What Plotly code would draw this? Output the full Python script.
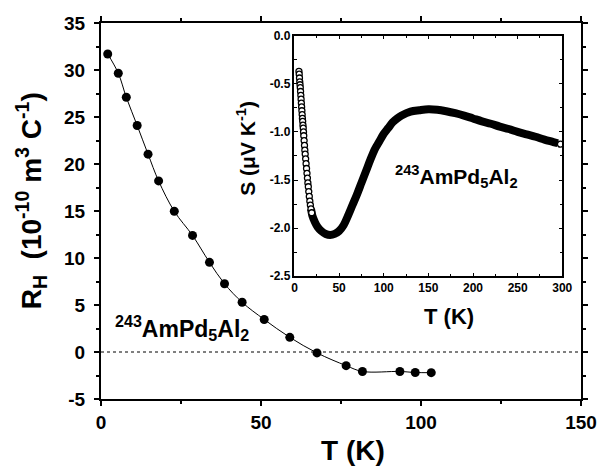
import plotly.graph_objects as go

# Main panel: Hall coefficient
T_main = [2.1, 5.4, 7.9, 11.3, 14.7, 18.0, 22.9, 28.6, 33.9, 38.6, 44.1, 51.0, 59.0, 67.5,
          76.6, 81.7, 93.4, 98.2, 103.2]
RH = [31.7, 29.66, 27.1, 24.1, 21.05, 18.2, 14.97, 12.4, 9.54, 7.26, 5.29, 3.46, 1.56, -0.1,
      -1.45, -2.07, -2.07, -2.18, -2.2]

# Inset: thermopower
T_ins = [5.0, 5.3, 5.6, 5.9, 6.2, 6.5, 6.8, 7.1, 7.4, 7.7, 8.0, 8.3, 8.6, 8.9, 9.2, 9.5, 9.8,
         10.1, 10.4, 10.8, 11.2, 11.6, 12.0, 12.5, 13.0, 13.5, 14.0, 14.5, 15.0, 15.5, 16.0,
         16.6, 17.2, 17.8, 18.5, 19.3,
         20, 23, 26, 30, 35, 40, 45, 50, 55, 60, 65, 70, 75, 80, 85, 90, 95, 100, 105, 110,
         115, 120, 130, 140, 150, 160, 170, 180, 190, 200, 210, 220, 230, 240, 250, 260, 270,
         280, 290, 295, 298]
S_ins = [-0.37, -0.40, -0.44, -0.48, -0.51, -0.54, -0.58, -0.62, -0.66, -0.70, -0.74, -0.78,
         -0.82, -0.86, -0.89, -0.93, -0.96, -1.00, -1.04, -1.09, -1.14, -1.19, -1.23, -1.28,
         -1.33, -1.38, -1.43, -1.48, -1.53, -1.57, -1.62, -1.67, -1.72, -1.76, -1.80, -1.84,
         -1.87, -1.94, -1.99, -2.03, -2.06, -2.07, -2.06, -2.03, -1.97, -1.87, -1.76, -1.65,
         -1.53, -1.41, -1.29, -1.18, -1.10, -1.02, -0.96, -0.90, -0.86, -0.83, -0.79, -0.775,
         -0.765, -0.77, -0.785, -0.805, -0.83, -0.86, -0.89, -0.915, -0.945, -0.97, -1.00,
         -1.025, -1.05, -1.08, -1.105, -1.118, -1.127]

# Tick labels
main_x_ticks = [0, 50, 100, 150]
main_y_ticks = [-5, 0, 5, 10, 15, 20, 25, 30, 35]
ins_x_ticks = [0, 50, 100, 150, 200, 250, 300]
ins_y_ticks = [-2.5, -2.0, -1.5, -1.0, -0.5, 0.0]
main_x_labels = ["0", "50", "100", "150"]
main_y_labels = ["-5", "0", "5", "10", "15", "20", "25", "30", "35"]
ins_x_labels = ["0", "50", "100", "150", "200", "250", "300"]
ins_y_labels = ["-2.5", "-2.0", "-1.5", "-1.0", "-0.5", "0.0"]

FONT = "Liberation Sans, Arial, sans-serif"


def bold(labels):
    return ["<b>%s</b>" % s for s in labels]


fig = go.Figure()

fig.add_trace(go.Scatter(x=T_main, y=RH, mode="lines+markers",
                         line=dict(color="black", width=1, shape="spline"),
                         marker=dict(color="black", size=9, symbol="circle"),
                         xaxis="x", yaxis="y", showlegend=False))

# inset: dense band as thick line, sparse left branch and end point as open circles
band_T = [t for t in T_ins if 18 <= t < 297]
band_S = [s for t, s in zip(T_ins, S_ins) if 18 <= t < 297]
mk_T = [t for t in T_ins if t < 20 or t >= 297]
mk_S = [s for t, s in zip(T_ins, S_ins) if t < 20 or t >= 297]

fig.add_trace(go.Scatter(x=band_T, y=band_S, mode="lines",
                         line=dict(color="black", width=8, shape="spline"),
                         xaxis="x2", yaxis="y2", showlegend=False))
fig.add_trace(go.Scatter(x=mk_T, y=mk_S, mode="markers",
                         marker=dict(color="white", size=6, symbol="circle",
                                     line=dict(color="black", width=1.3)),
                         xaxis="x2", yaxis="y2", showlegend=False))

fig.add_shape(type="line", xref="x", yref="y", x0=0, x1=150, y0=0, y1=0,
              line=dict(color="black", width=1, dash="3px,3px"))

tickfont_main = dict(family=FONT, size=19, color="black")
tickfont_ins = dict(family=FONT, size=12, color="black")

# the page body adds an 8px offset, so the figure is 8px smaller with 8px less left/top margin
fig.update_layout(
    width=599, height=459,
    margin=dict(l=93, r=26, t=5, b=68),
    paper_bgcolor="white", plot_bgcolor="white",
    showlegend=False,
    xaxis=dict(domain=[0, 1], range=[0, 150],
               tickmode="array", tickvals=main_x_ticks, ticktext=bold(main_x_labels),
               showgrid=False, zeroline=False, showline=True, linecolor="black", linewidth=2,
               mirror="allticks", ticks="outside", ticklen=5, tickwidth=1.5, tickcolor="black",
               minor=dict(dtick=25, tick0=0, ticks="outside", ticklen=3, tickwidth=1.5,
                          tickcolor="black"),
               tickfont=tickfont_main, anchor="y"),
    yaxis=dict(domain=[0, 1], range=[-5, 35],
               tickmode="array", tickvals=main_y_ticks, ticktext=bold(main_y_labels),
               ticklabelstandoff=5,
               showgrid=False, zeroline=False, showline=True, linecolor="black", linewidth=2,
               mirror="allticks", ticks="outside", ticklen=5, tickwidth=1.5, tickcolor="black",
               minor=dict(dtick=2.5, tick0=0, ticks="outside", ticklen=3, tickwidth=1.5,
                          tickcolor="black"),
               tickfont=tickfont_main, anchor="x"),
    xaxis2=dict(domain=[0.4031, 0.961], range=[0, 300],
                tickmode="array", tickvals=ins_x_ticks, ticktext=bold(ins_x_labels),
                showgrid=False, zeroline=False, showline=True, linecolor="black", linewidth=1.5,
                mirror="allticks", ticks="inside", ticklen=4, tickwidth=1, tickcolor="black",
                minor=dict(dtick=25, tick0=0, ticks="inside", ticklen=2.5, tickwidth=1,
                           tickcolor="black"),
                tickfont=tickfont_ins, anchor="y2"),
    yaxis2=dict(domain=[0.3264, 0.9663], range=[-2.5, 0],
                tickmode="array", tickvals=ins_y_ticks, ticktext=bold(ins_y_labels),
                showgrid=False, zeroline=False, showline=True, linecolor="black", linewidth=1.5,
                mirror="allticks", ticks="inside", ticklen=4, tickwidth=1, tickcolor="black",
                minor=dict(dtick=0.25, tick0=0, ticks="inside", ticklen=2.5, tickwidth=1,
                           tickcolor="black"),
                tickfont=tickfont_ins, anchor="x2"),
)

ann = []
ann.append(dict(text="<b>T (K)</b>", xref="paper", yref="paper", x=0.525, y=-0.137,
                xanchor="center", yanchor="middle", showarrow=False,
                font=dict(family=FONT, size=28, color="black")))
ann.append(dict(text="<b>R<sub>H</sub>  (10<sup>-10</sup> m<sup>3</sup> C<sup>-1</sup>)</b>",
                xref="paper", yref="paper", x=-0.144, y=0.528, textangle=-90,
                xanchor="center", yanchor="middle", showarrow=False,
                font=dict(family=FONT, size=28, color="black")))
ann.append(dict(text="<b><sup>243</sup>AmPd<sub>5</sub>Al<sub>2</sub></b>", xref="x", yref="y",
                x=3.6, y=2.6, xanchor="left", yanchor="middle", showarrow=False,
                font=dict(family=FONT, size=23, color="black")))
ann.append(dict(text="<b><sup>243</sup>AmPd<sub>5</sub>Al<sub>2</sub></b>", xref="x2", yref="y2",
                x=110, y=-1.46, xanchor="left", yanchor="middle", showarrow=False,
                font=dict(family=FONT, size=21, color="black")))
ann.append(dict(text="<b>T (K)</b>", xref="paper", yref="paper", x=0.726, y=0.220,
                xanchor="center", yanchor="middle", showarrow=False,
                font=dict(family=FONT, size=22, color="black")))
ann.append(dict(text="<b>S (μV K<sup>-1</sup>)</b>", xref="paper", yref="paper", x=0.302, y=0.668,
                textangle=-90, xanchor="center", yanchor="middle", showarrow=False,
                font=dict(family=FONT, size=21, color="black")))
fig.update_layout(annotations=ann)

fig.write_html("out.html")
